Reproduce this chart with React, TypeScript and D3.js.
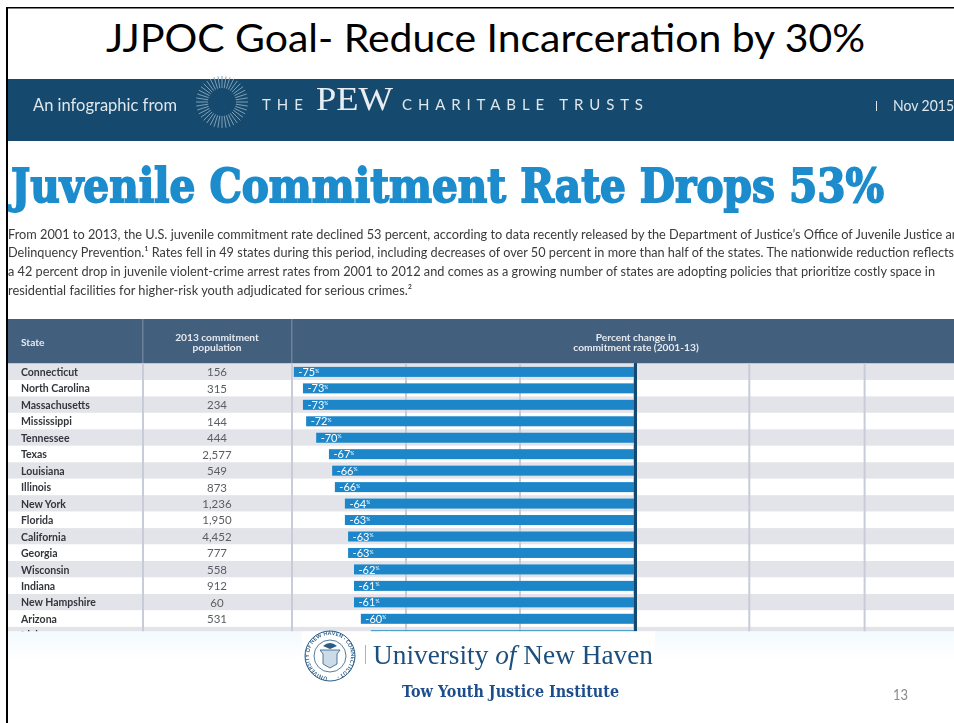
import React from "react";
import * as d3 from "d3";

const states = ["Connecticut","North Carolina","Massachusetts","Mississippi","Tennessee","Texas","Louisiana","Illinois","New York","Florida","California","Georgia","Wisconsin","Indiana","New Hampshire","Arizona","Idaho"];
const populations = ["156","315","234","144","444","2,577","549","873","1,236","1,950","4,452","777","558","912","60","531","504"];
const percentLabels = [-75,-73,-73,-72,-70,-67,-66,-66,-64,-63,-63,-63,-62,-61,-61,-60,-58];
const percentChange = [-74.6,-72.6,-72.6,-71.9,-69.7,-66.9,-66.2,-65.6,-63.4,-63.4,-62.7,-62.7,-61.4,-61.4,-61.4,-59.9,-57.7];
const gridTicks = [-75,-50,-25,0,25,50];
const bodyLines = [
  "From 2001 to 2013, the U.S. juvenile commitment rate declined 53 percent, according to data recently released by the Department of Justice\u2019s Office of Juvenile Justice and",
  "Delinquency Prevention.\u00b9 Rates fell in 49 states during this period, including decreases of over 50 percent in more than half of the states. The nationwide reduction reflects",
  "a 42 percent drop in juvenile violent-crime arrest rates from 2001 to 2012 and comes as a growing number of states are adopting policies that prioritize costly space in",
  "residential facilities for higher-risk youth adjudicated for serious crimes.\u00b2",
];
const bodyWidths = [958, 946, 927, 404];
const sunRays = d3.range(0, 360, 9);

const SANS = "Lato, 'Open Sans', sans-serif";
const SERIF = "'Liberation Serif', serif";
const SLAB = "'DejaVu Serif', serif";

export default function App() {
  const x = d3.scaleLinear().domain([-75, 0, 50]).range([292, 634, 864.6]);
  const y = d3.scaleBand<string>().domain(states).range([363.5, 363.5 + 16.46 * states.length]);
  const body = d3.scaleLinear().domain([0, bodyLines.length - 1]).range([238.5, 294.5]);
  const barH = 10;
  const sun = { cx: 222, cy: 102, r0: 14, r1: 26 };

  return (
    <svg width={954} height={723} style={{ position: "absolute", left: 0, top: 0, display: "block", background: "#fff" }}>
      <defs>
        <clipPath id="tableClip"><rect x={8} y={363} width={946} height={268.5} /></clipPath>
        <linearGradient id="fade" x1="0" y1="0" x2="0" y2="1">
          <stop offset="0" stopColor="#f3fafe" />
          <stop offset="1" stopColor="#ffffff" />
        </linearGradient>
        <filter id="soft" x="0" y="0" width="100%" height="100%"><feGaussianBlur stdDeviation="0.4" /></filter>
        <path id="sealArc" d="M 330 677 A 21 21 0 1 1 330.1 677" />
      </defs>
      <rect width={954} height={723} fill="#fff" />

      <text x={106} y={52} fontFamily={SANS} fontSize={39} fill="#000" textLength={759} lengthAdjust="spacingAndGlyphs">JJPOC Goal- Reduce Incarceration by 30%</text>

      <g filter="url(#soft)">
        {/* banner */}
        <rect x={8} y={79} width={946} height={62} fill="#174a6e" />
        <text x={33} y={111} fontFamily={SANS} fontSize={17} fill="#dfe7ed" textLength={144} lengthAdjust="spacingAndGlyphs">An infographic from</text>
        {sunRays.map((a) => {
          const t = (a * Math.PI) / 180;
          return (
            <line key={a}
              x1={sun.cx + sun.r0 * Math.cos(t)} y1={sun.cy + sun.r0 * Math.sin(t)}
              x2={sun.cx + sun.r1 * Math.cos(t)} y2={sun.cy + sun.r1 * Math.sin(t)}
              stroke="#7fa0b6" strokeWidth={1} />
          );
        })}
        <text x={262} y={110} fontFamily={SANS} fontSize={15} fill="#dfe7ed" textLength={41}>THE</text>
        <text x={316} y={110} fontFamily={SERIF} fontSize={33} fill="#e8eef2" textLength={77} lengthAdjust="spacingAndGlyphs">PEW</text>
        <text x={402} y={110} fontFamily={SANS} fontSize={15} fill="#dfe7ed" textLength={241}>CHARITABLE TRUSTS</text>
        <rect x={876} y={101} width={1} height={10} fill="#dfe7ed" />
        <text x={893} y={111} fontFamily={SANS} fontSize={15} fill="#dfe7ed" textLength={61} lengthAdjust="spacingAndGlyphs">Nov 2015</text>

        {/* headline */}
        <text x={11} y={202} fontFamily={SLAB} fontWeight={700} fontSize={46} fill="#1b8ccc" stroke="#1b8ccc" strokeWidth={1.8} textLength={873} lengthAdjust="spacingAndGlyphs">Juvenile Commitment Rate Drops 53%</text>

        {/* paragraph */}
        {bodyLines.map((line, i) => (
          <text key={i} x={8} y={body(i)} fontFamily={SANS} fontSize={13.5} fill="#3a3a3c" textLength={bodyWidths[i]} lengthAdjust="spacingAndGlyphs">{line}</text>
        ))}

        {/* table header */}
        <rect x={8} y={319} width={946} height={44.5} fill="#425e7e" />
        <rect x={142} y={319} width={1.5} height={44.5} fill="#6c8099" />
        <rect x={291} y={319} width={1.5} height={44.5} fill="#6c8099" />
        <g fontFamily={SANS} fontWeight={700} fontSize={10.2} fill="#e6ebf0">
          <text x={21} y={346}>State</text>
          <text x={217} y={340.5} textAnchor="middle">2013 commitment</text>
          <text x={217} y={351} textAnchor="middle">population</text>
          <text x={636} y={340.5} textAnchor="middle">Percent change in</text>
          <text x={636} y={351} textAnchor="middle">commitment rate (2001-13)</text>
        </g>

        {/* table body */}
        <g clipPath="url(#tableClip)">
          {states.map((s, i) => (
            <rect key={s} x={8} y={y(s)!} width={946} height={y.bandwidth()} fill={i % 2 === 0 ? "#e3e4e9" : "#ffffff"} />
          ))}
          <rect x={142} y={363} width={2} height={270} fill="#c8ccd8" />
          {gridTicks.map((t) => (
            <rect key={t} x={x(t) - 1} y={363} width={2} height={270} fill="#c8ccd8" />
          ))}
          {states.map((s, i) => (
            <g key={s}>
              <rect x={x(percentChange[i])} y={y(s)! + 3.4} width={x(0) - x(percentChange[i])} height={barH} fill="#1b86c8" />
              <text x={21} y={y(s)! + 12.5} fontFamily={SANS} fontWeight={700} fontSize={10.5} fill="#33363b">{s}</text>
              <text x={217} y={y(s)! + 12.8} textAnchor="middle" fontFamily={SANS} fontSize={11.5} fill="#5a5d62">{populations[i]}</text>
              <text x={x(percentChange[i]) + 4.5} y={y(s)! + 12.5} fontFamily={SANS} fontSize={11} fill="#fff">
                {percentLabels[i]}<tspan fontSize={5} dy={-3.5}>%</tspan>
              </text>
            </g>
          ))}
          <rect x={634} y={363} width={3} height={270} fill="#174a6e" />
        </g>

        {/* footer */}
        <rect x={8} y={631.5} width={946} height={30} fill="url(#fade)" />
        <rect x={302} y={631.5} width={353} height={55} fill="#fff" />
        <circle cx={330} cy={656} r={25} fill="#fff" stroke="#2a5c86" strokeWidth={1} />
        <circle cx={330} cy={656} r={16} fill="#fff" stroke="#2a5c86" strokeWidth={0.8} />
        <text fontFamily={SANS} fontWeight={700} fontSize={5.2} fill="#2a5c86">
          <textPath href="#sealArc" startOffset="2%" textLength={122}>UNIVERSITY OF NEW HAVEN &#183; CONNECTICUT &#183;</textPath>
        </text>
        <path d="M 320 650 L 340 650 L 337 654 L 337 664 L 330 668 L 323 664 L 323 654 Z" fill="#cddbe6" stroke="#2a5c86" strokeWidth={0.8} />
        <path d="M 323 646 Q 330 640 337 646 L 330 649 Z" fill="#2a5c86" />
        <rect x={365} y={645} width={0.8} height={19} fill="#8aa3ba" />
        <text x={373} y={664} fontFamily={SERIF} fontSize={28} fill="#1d4f7e" textLength={280} lengthAdjust="spacingAndGlyphs">
          University <tspan fontStyle="italic">of</tspan> New Haven
        </text>
        <text x={402} y={697} fontFamily={SLAB} fontWeight={700} fontSize={16} fill="#1f4e8c" textLength={217} lengthAdjust="spacingAndGlyphs">Tow Youth Justice Institute</text>
      </g>

      <text x={893} y={700} fontFamily={SANS} fontSize={15} fill="#8a8a8a" textLength={15} lengthAdjust="spacingAndGlyphs">13</text>

      {/* slide border */}
      <rect x={6} y={7} width={948} height={1.5} fill="#000" />
      <rect x={6} y={7} width={2} height={716} fill="#000" />
    </svg>
  );
}
